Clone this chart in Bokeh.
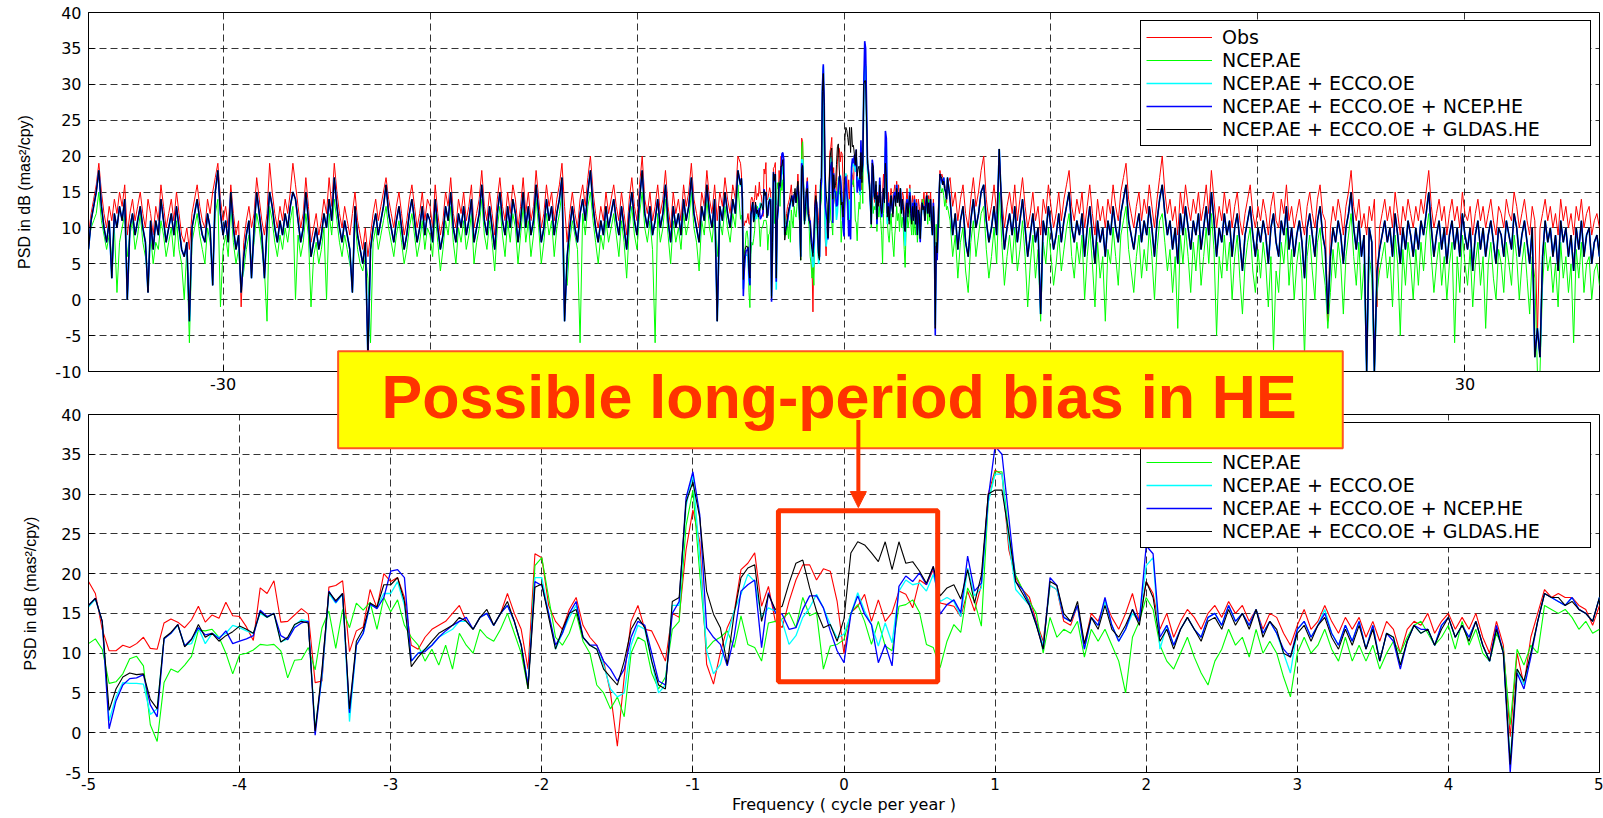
import numpy as np
from bokeh.plotting import figure
from bokeh.layouts import column
from bokeh.models import FixedTicker, BoxAnnotation, Label, Arrow, NormalHead
from bokeh.embed import file_html
from bokeh.resources import INLINE

# ------------------------------------------------------------------
# Spectra (PSD in dB, mas^2/cpy)
# ------------------------------------------------------------------
# fine band -5..5 cpy, resolution 1/22 cpy
freq_fine = np.arange(-110, 111) / 22.0

obs_fine = [
    19, 17.5, 13, 10.3, 10.3, 11, 10.7, 11.2, 12, 10.6, 10.5, 13.8, 14.3, 13.9, 13.2, 14.2, 15.9, 13.9, 14.8, 14.4,
    16.4, 14.7, 14.6, 13.3, 11.6, 18.2, 17.5, 19.1, 13.9, 14.0, 14.8, 15.6, 14.9, 6.3, 6.5, 18.3, 18.5, 19.1, 10.2, 12.8,
    13.3, 18.0, 15.7, 20.0, 19.0, 19.5,
    17, 11, 10.5, 12, 13, 13.5, 14, 15, 16, 14, 13, 14.5, 15, 13.5, 15, 17.5, 15, 13, 8, 22.5,
    22, 16, 14, 13, 15.5, 17, 13.5, 12, 11, 9, 5, -1.7, 7, 14, 16, 13, 12.8, 11, 9, 15,
    14.5, 23, 28,
    24, 8.6, 6.1, 10.1, 13.2, 15.1, 20.5, 21.3, 22.6, 15.9, 18.4, 14.0, 13.2, 16.5, 19.2, 21.1, 21.1, 19.2, 20.6, 20.3,
    16.5, 9.9, 15.1, 15.9, 17.4, 14, 16.7, 14, 15.1, 17.8, 17.4, 15.7, 19.2, 18.6, 20.5, 16.3, 16.1, 15.9, 14.6, 17.8,
    15.3, 18.6, 30,
    33, 32.5, 23, 19.5, 18, 17, 14, 11.5, 18.5, 18, 14, 13.5, 16, 11, 15, 14, 16.5, 14.5, 13, 15,
    17.5, 14, 19, 17.5, 13, 15, 12, 14, 15.5, 14.5, 13, 15, 16, 14.5, 16.5, 15, 16, 14, 15.5, 13,
    15, 14.5, 12.5, 11, 13.5, 15.5, 13, 14, 16, 14, 12.5, 14.5, 13, 14.5, 12, 14, 11.5, 14, 13, 10,
    13, 14, 13.5, 15, 12.5, 14, 15, 13, 14.5, 13, 15, 12, 10, 14, 11, -0.5, 10, 6, 12, 15,
    18, 17, 17.5, 17, 17, 16, 15.5, 13.5, 16,
]

ae_fine = [
    11.2, 11.8, 10.5, 6.2, 6.4, 7.4, 9.3, 9.6, 8.4, 1.0, -1.1, 6.3, 8.0, 7.6, 8.5, 9.6, 12.9, 12.8, 13.0, 12.0,
    10.0, 7.4, 9.8, 10.0, 10.4, 11.1, 11.0, 11.1, 10.3, 6.9, 9.1, 9.2, 10.7, 7.9, 13.2, 15.3, 10.6, 15.5, 13.2, 16.3,
    15.4, 16.4, 13.0, 17.0, 15.2, 16.7,
    13.5, 12, 11, 9, 10.5, 8.5, 11, 8, 12.5, 11, 10, 13, 12, 11.5, 13, 15, 12.5, 10, 5.5, 21,
    22, 17, 12, 11, 12.5, 15, 11.5, 10, 6, 5, 3, 4.5, 2, 10, 12, 11.5, 7.5, 5.5, 7, 13,
    14, 26, 30.5,
    20, 10.5, 11.5, 12, 12.8, 10.7, 14.7, 11.1, 10.7, 9, 13.8, 14, 14.3, 15.1, 13.2, 17, 14.7, 15.1, 8, 10.9,
    11.1, 11.7, 15.1, 16.1, 14, 11.1, 14, 10.9, 10.3, 15.9, 16.1, 16.7, 15.1, 11.1, 10.7, 8.2, 11.5, 13.6, 12.6, 18.2,
    16.5, 13.4, 29,
    32.8, 32.8, 25, 19.8, 18, 16.5, 15, 10, 14.5, 12, 13, 12.5, 14, 9.5, 13, 11.5, 13, 11, 9, 5,
    12, 14, 17, 15.5, 11, 9, 8, 10, 12, 9.5, 7.5, 6, 9, 10.5, 13, 11, 12, 9.5, 13, 10,
    11.5, 10, 7, 4.5, 10, 12, 10, 11, 13, 10.5, 9, 12, 9, 11, 9, 11, 8, 10, 11.5, 10,
    12, 13.5, 14, 12.5, 11, 12, 13.5, 10.5, 14, 11, 13, 10, 9, 12.5, 10.5, 1, 10.5, 8.5, 11, 10,
    16, 15.5, 15, 15.5, 14.5, 13, 14, 12.5, 13,
]

ae_oe_fine = [
    15.8, 16.8, 14.0, 1.5, 4.5, 6.3, 6.2, 6.2, 6.1, 2.3, 3.0, 11.8, 12.5, 13.5, 11.0, 11.2, 13.2, 11.2, 12.5, 12.0,
    12.5, 13.5, 13.2, 12.8, 12.5, 15.0, 14.5, 15.0, 11.4, 11.8, 13.5, 14.2, 14.0, 0.5, 7.0, 17.5, 16.3, 17.4, 1.4, 11.0,
    12.5, 16.0, 15.8, 17.5, 17.5, 19.0,
    16, 9, 10, 10.5, 11, 12, 12.5, 13, 14, 14, 13, 14.5, 15, 13.5, 15, 16, 14, 11, 6, 19.5,
    19.5, 15, 10.5, 12.5, 14.5, 16, 12, 11, 10.5, 8.5, 5.5, 4.5, 5, 11, 13.5, 13, 9, 5, 6, 16,
    16, 28.5, 32.5,
    22, 10.3, 7.4, 8.6, 12, 15.3, 17.4, 19.9, 19, 14.5, 15.7, 15.3, 14, 11.1, 12.2, 14.5, 15.7, 17.4, 15.7, 13.6,
    11.9, 12.4, 14.9, 17.6, 15.3, 13.6, 10.9, 13.8, 11.3, 17.8, 19.2, 18.6, 18.8, 17.8, 19.9, 16.5, 17, 16.5, 14.6, 20.7,
    17.2, 18.2, 29,
    32.5, 32.5, 24, 18, 17, 16, 13.5, 11, 18.5, 18, 14.5, 14, 16, 10.5, 14.5, 13.5, 16.5, 13.5, 11.5, 13,
    15, 14, 21, 22, 10.5, 13.5, 11, 13, 14.5, 13, 12, 14.5, 15, 13.5, 16, 14, 15, 13.5, 15.5, 12.5,
    14, 12.5, 10, 7.5, 13, 14, 12, 13.5, 15.5, 12.5, 11, 13.5, 11.5, 14, 10.5, 13.5, 9, 12.5, 12, 8.5,
    11.5, 13.5, 12.5, 13, 11, 13.5, 14.5, 12, 13.5, 12, 14, 11, 9, 13, 10, -3.5, 8, 6, 10, 14,
    17.5, 17, 16.5, 16, 17, 15.5, 15, 14, 17,
]

ae_oe_ncep_fine = [
    16.0, 16.9, 14.0, 0.5, 4.0, 6.0, 6.8, 6.9, 7.3, 3.5, 2.0, 11.8, 12.5, 13.6, 10.9, 11.8, 13.2, 12.3, 12.5, 11.8,
    12.8, 11.2, 11.5, 11.8, 12.2, 15.4, 14.6, 15.0, 12.2, 11.7, 13.2, 13.8, 14.0, -0.3, 7.5, 17.8, 16.4, 17.5, 2.5, 11.0,
    12.5, 16.2, 15.6, 17.0, 20.3, 20.5,
    19.5, 9, 10, 10.2, 11, 12, 12.8, 13.5, 14, 14.5, 13, 14.5, 15, 13.5, 15, 16, 14, 11, 6, 19,
    18.5, 15, 11, 12.5, 15, 16.5, 12, 11, 11, 9, 8, 6.5, 8, 12, 14, 13.5, 10, 6.5, 6, 15,
    16.5, 29.5, 32.8,
    27.4, 13.2, 12, 11.1, 8.4, 12, 17.8, 18.6, 19.2, 10.7, 17.6, 15.1, 14.9, 13, 13.2, 15.5, 17.2, 17.2, 15.7, 12.8,
    10.3, 8.8, 14.9, 17.2, 14.9, 13.6, 8.8, 11.1, 8.4, 18.4, 19.7, 19, 20.1, 18.6, 20.9, 14.9, 16.1, 16.7, 15.1, 22.2,
    17.8, 18.8, 29.5,
    36, 35, 27, 19, 18, 16.2, 13.7, 10.5, 19.5, 18.5, 14.5, 14, 16, 10.5, 14.5, 13.5, 17, 13.5, 11.5, 13,
    15.5, 14, 23.5, 22.5, 12, 13.5, 11, 13, 14.5, 13, 12, 14.5, 15, 13.5, 16, 14, 15, 13.5, 15.5, 12.5,
    14, 12.5, 10.5, 9.5, 13, 14, 12, 13.5, 15, 12.5, 11, 13.5, 11.5, 14, 10.5, 13.5, 9, 12.5, 11.5, 8,
    11.5, 13.5, 13, 13, 11, 13.5, 14.5, 12, 13.5, 12, 14, 11, 9, 13.5, 10, -5, 7.5, 5.5, 9.5, 14,
    17.5, 17, 16.5, 16, 17, 15.5, 15, 14, 17,
]

ae_oe_gldas_fine = [
    16.0, 16.9, 14.0, 2.8, 5.5, 7.0, 7.5, 7.3, 7.4, 4.2, 3.0, 11.9, 12.6, 13.6, 10.8, 11.7, 13.6, 12.0, 12.5, 11.5,
    12.2, 12.7, 13.4, 13.0, 12.5, 15.2, 14.5, 15.0, 11.4, 12.0, 13.6, 14.0, 13.8, 0.2, 8.0, 17.7, 16.6, 17.5, 3.0, 11.5,
    13.0, 16.3, 15.8, 18.6, 18.6, 19.5,
    16.5, 8.3, 9.5, 10.5, 11.5, 12.5, 13, 13.5, 14.5, 14, 13, 14.5, 15.5, 13.5, 15, 16.5, 14, 11, 5.5, 18.3,
    18.7, 14.5, 10.5, 13, 15, 15.5, 12, 11, 10.5, 8, 7, 6, 9, 13, 14.5, 13.2, 9, 6, 5.5, 16.5,
    17, 29, 31.5,
    27, 17.8, 14.9, 13.2, 8.6, 14.9, 19.5, 20.7, 21.1, 14, 17.4, 15.5, 15.9, 18.8, 21.3, 21.7, 18.2, 15.3, 13.2, 13.6,
    11.5, 14.3, 22.6, 24, 23.6, 22.6, 21.5, 24, 20.5, 24, 21.3, 21.5, 20.3, 18.8, 20.9, 17.2, 18.2, 18.6, 16.8, 20.5,
    16.3, 19.8, 30,
    30.5, 30.5, 25, 19, 17.5, 16, 13.5, 10.5, 19, 18.5, 15, 14, 16.5, 11.2, 14.5, 13, 16, 13, 12, 13.5,
    15.5, 13.5, 19, 17, 11.5, 13, 10.5, 13, 14.5, 13, 11.5, 14, 14.5, 13, 15.5, 13.5, 15, 13, 15.5, 12,
    14, 13, 10, 9.5, 12.5, 13.5, 11.5, 13.5, 14.5, 12, 10.5, 13, 11, 13.5, 10.5, 13, 9, 12.5, 12, 8.5,
    11.5, 13.5, 12.5, 13, 11, 13, 14.5, 12, 13.5, 11.5, 14, 11, 9, 13, 10, -4, 8, 6.5, 10, 14,
    17.5, 17, 17, 16, 16.5, 15.5, 15, 14, 17,
]

# wide band outside +-5 cpy, resolution 1/8 cpy
freq_left = -36.5 + 0.125 * np.arange(252)
freq_right = 5.125 + 0.125 * np.arange(252)

obs_left = [
    9, 12, 14, 16, 19, 15, 12, 10, 13, 11, 14, 12,
    15, 13, 16, 9, 12, 14, 11, 13, 15, 12, 10, 14,
    12, 9, 13, 11, 16, 13, 10, 12, 14, 11, 15, 12,
    9, 8, 10, 7, 12, 14, 16, 13, 11, 10, 14, 12,
    15, 17, 19, 14, 11, 13, 10, 16, 12, 9, 11, -1,
    8, 11, 13, 10, 12, 17, 14, 11, 9, 12, 19, 15,
    12, 10, 13, 11, 14, 12, 15, 19, 16, 13, 10, 12,
    17, 13, 8, 10, 12, 9, 11, 14, 12, 17, 13, 19,
    15, 12, 10, 13, 11, 9, 12, 15, 11, 9, 7, 10,
    6, 9, 12, 14, 11, 13, 15, 17, 14, 12, 10, 13,
    15, 12, 9, 11, 14, 16, 13, 10, 12, 15, 11, 14,
    13, 10, 16, 12, 9, 11, 15, 13, 17, 12, 10, 14,
    12, 15, 11, 13, 16, 10, 12, 14, 18, 13, 11, 15,
    12, 9, 14, 17, 13, 11, 15, 12, 16, 14, 10, 13,
    17, 12, 15, 11, 13, 18, 14, 10, 12, 16, 13, 15,
    11, 14, 16, 19, 13, 8, 12, 15, 12, 10, 14, 16,
    13, 17, 20, 15, 12, 10, 13, 11, 15, 12, 14, 16,
    13, 11, 15, 12, 9, 14, 17, 13, 11, 16, 20, 14,
    12, 15, 11, 13, 16, 12, 14, 18, 13, 10, 15, 12,
    14, 11, 16, 13, 15, 19, 14, 12, 10, 15, 13, 18,
    14, 12, 16, 11, 15, 13, 17, 14, 12, 16, 14, 20,
]
ae_left = [
    8, 10, 11, 12, 15, 11, 9, 7, 9, 6, 10, 1,
    8, 10, 12, 6, 9, 11, 7, 9, 12, 8, 6, 3,
    9, 5, 8, 7, 11, 9, 6, 8, 10, 6, 11, 7,
    5, 0, 7, -6, 8, 10, 12, 9, 7, 5, 10, 8,
    4, 12, 14, -1, 7, 9, 6, 13, 8, 5, 7, 2,
    4, 7, 9, 5, 8, 12, 10, 7, 4, -3, 13, 11,
    8, 6, 9, 7, 10, 8, 11, 13, 0, 9, 6, 8,
    12, 9, -1, 6, 8, 5, 7, 10, 0, 12, 9, 14,
    11, 8, 6, 9, 7, 5, 3, 11, 7, 5, 4, 6,
    3, -6, 8, 10, 7, 9, 11, 13, 10, 8, 6, 9,
    11, 8, 5, 7, 10, 12, 9, 6, 8, 11, 7, 10,
    9, 6, 12, 8, 4, 7, 11, 9, 13, 8, 5, 10,
    8, 11, 7, 9, 12, 5, 8, 10, 14, 9, 7, 11,
    8, 4, 10, 13, 9, 6, 11, 8, 12, 10, 5, 9,
    13, 8, 11, 6, 9, 14, 10, 5, 8, 12, 9, 11,
    6, 10, 12, 15, 3, 2, 8, 11, 9, 7, -6, 12,
    9, 13, 15, 11, 8, 5, 9, 7, 11, 8, 10, 12,
    9, 6, 11, 8, 3, 10, 13, 9, 7, 12, 15, 10,
    8, 11, 7, -6, 12, 8, 10, 14, 9, 5, 11, 8,
    10, 7, 12, 9, 11, 15, 10, 8, 4, 11, 9, 14,
    10, 8, 12, 6, 11, 9, 13, 10, 8, 12, 10, 16,
]
he_left = [
    7, 11, 13, 15, 18, 13, 10, 8, 11, 3, 12, 10,
    13, 11, 14, 0, 10, 12, 9, 11, 13, 10, 8, 1,
    11, 7, 11, 9, 14, 11, 8, 10, 12, 9, 13, 10,
    7, 6, 8, -3, 10, 12, 14, 11, 9, 8, 12, 10,
    2, 15, 18, 12, 9, 11, 8, 15, 10, 7, 9, 1,
    6, 9, 11, 3, 10, 15, 12, 9, 3, 10, 15, 13,
    10, 8, 11, 9, 12, 10, 13, 15, 14, 11, 8, 10,
    15, 11, 6, 8, 10, 7, 9, 12, 10, 14, 11, 17,
    13, 10, 8, 11, 9, 7, 1, 13, 9, 7, 5, 8,
    -8, 7, 10, 12, 9, 11, 13, 16, 12, 10, 8, 11,
    13, 10, 7, 9, 12, 14, 11, 8, 10, 13, 9, 12,
    11, 8, 14, 10, 7, 9, 13, 11, 15, 10, 8, 12,
    10, 13, 9, 11, 14, 8, 10, 12, 16, 11, 9, 13,
    10, 7, 12, 15, 11, 9, 13, 10, 14, 12, 8, 11,
    15, 10, 13, 9, 11, 16, 12, 8, 10, 14, 11, 13,
    9, 12, 14, 17, -3, 6, 10, 13, 10, 8, 12, 14,
    11, 15, 18, 13, 10, 8, 11, 9, 13, 10, 12, 14,
    11, 9, 13, 10, 7, 12, 15, 11, 9, 14, 18, 12,
    10, 13, 9, 11, 14, 10, 12, 16, 11, 8, 13, 10,
    12, 9, 14, 11, 13, 17, 12, 10, 8, 13, 11, 16,
    12, 10, 14, -3, 13, 11, 15, 12, 10, 14, 12, 18,
]
obs_right = [
    17, 13, 15, 11, 14, 16, 12, 10, 14, 17, 13, 15,
    18, 20, 14, 11, 13, 16, 12, 19, 14, 10, 13, 15,
    12, 16, 11, 14, 17, 13, 10, 12, 15, 11, 13, 9,
    14, 12, 16, 13, 10, 12, 15, 11, 14, 16, 18, 13,
    11, 14, 12, 15, 10, 13, 16, 12, 9, 14, 11, 13,
    10, 14, 12, 16, 13, 11, 15, 17, 19, 14, 12, 10,
    13, 15, 11, 14, 12, 16, 13, 10, 14, 17, 20, 15,
    12, 14, 11, 13, 9, 15, 12, 16, 13, 11, 14, 12,
    15, 11, 13, 16, 12, 18, 14, 10, 13, 11, 15, 12,
    14, 10, 13, 15, 11, 9, 12, 14, 16, 12, 10, 13,
    11, 14, 12, 9, 13, 15, 11, 10, 14, 12, 16, 11,
    13, 10, 12, 14, 11, 9, 13, 15, 12, 10, 14, 16,
    12, 11, -3, 10, 13, 11, 14, 12, 9, 13, 15, 18,
    13, 11, 14, 10, 12, 9, 13, 11, 14, -1, 10, 12,
    14, 11, 13, 10, 15, 12, 9, 13, 11, 14, 12, 10,
    13, 11, 14, 12, 15, 18, 13, 10, 12, 14, 11, 13,
    9, 12, 14, 11, 13, 10, 15, 12, 11, 13, 9, 12,
    14, 11, 13, 10, 12, 14, 11, 9, 13, 12, 10, 14,
    12, 11, 15, 13, 10, 12, 14, 11, 9, 13, 11, -5,
    10, 12, 14, 11, 13, 10, 12, 9, 14, 11, 13, 10,
    12, 9, 13, 11, 14, 10, 12, 13, 9, 11, 12, 10,
]
ae_right = [
    11, 6, 9, 3, 8, 10, 4, 1, 8, 11, 6, 9,
    12, 13, 7, 3, 6, 10, 5, 15, 8, 2, 6, 9,
    5, 10, 4, 7, 11, 6, -1, 5, 9, 3, 7, -3,
    8, 5, 10, 6, 2, 5, 9, 4, 7, 10, 12, 6,
    3, 8, 5, 9, 0, 6, 10, 5, -1, 8, 3, 6,
    -3, 7, 5, 10, 6, 2, 9, 11, 13, 7, 4, 1,
    6, 9, 3, 7, 4, 10, 6, 0, 7, 11, 12, 8,
    4, 7, 1, 6, -4, 9, 5, 10, 6, 1, 8, 4,
    9, 2, 6, 10, 5, 12, 7, -5, 6, 3, 9, 4,
    8, 0, 6, 9, 3, -2, 5, 8, 10, 4, 1, 7,
    3, 8, 5, -1, 6, -7, 4, 1, 8, 5, 10, 2,
    7, 0, 5, 8, 3, -8, 6, 9, 4, 0, 8, 10,
    5, 2, -4, 1, 7, 3, 8, 5, -2, 6, 9, 12,
    6, 2, 8, 0, 5, -10, 6, 3, -10, 1, 4, 6,
    8, 3, 6, -1, 9, 5, -5, 7, 2, 8, 5, 0,
    7, 2, 8, 4, 9, 12, 6, 1, 5, 8, 2, 6,
    0, 5, 8, -6, 6, 1, 9, 5, 2, 7, -1, 5,
    8, 2, 6, -4, 5, 8, 3, 0, 7, 5, 1, 8,
    5, 2, 9, 6, 0, 5, 8, 3, -2, 6, 3, -10,
    -10, 2, 8, 4, 6, 1, 5, -1, 8, 3, 6, 1,
    5, -6, 7, 3, 8, 1, 5, 6, 0, 4, 5, 2,
]
he_right = [
    14, 9, 12, 7, 11, 13, 8, 6, 11, 14, 10, 12,
    15, 16, 11, 8, 10, 13, 9, 21, 12, 7, 10, 12,
    9, 13, 8, 11, 14, 10, 6, 9, 12, 8, 10, -2,
    11, 9, 13, 10, 7, 9, 12, 8, 11, 13, 15, 10,
    8, 11, 9, 12, 6, 10, 13, 9, 5, 11, 8, 10,
    6, 11, 9, 13, 10, 8, 12, 14, 16, 11, 9, 7,
    10, 12, 8, 11, 9, 13, 10, 6, 11, 14, 16, 12,
    9, 11, 7, 10, 5, 12, 9, 13, 10, 7, 11, 9,
    12, 7, 10, 13, 9, 15, 11, 6, 10, 8, 12, 9,
    11, 6, 10, 12, 8, 4, 9, 11, 13, 9, 6, 10,
    8, 11, 9, 5, 10, 12, 8, 6, 11, 9, 13, 7,
    10, 6, 9, 11, 8, 3, 10, 12, 9, 6, 11, 13,
    9, 7, -2, 6, 10, 8, 11, 9, 5, 10, 12, 15,
    10, 7, 11, 6, 9, -10, 10, 8, -10, 4, 7, 9,
    11, 8, 10, 6, 12, 9, 5, 10, 7, 11, 9, 6,
    10, 7, 11, 9, 12, 15, 10, 6, 9, 11, 7, 10,
    5, 9, 11, 7, 10, 6, 12, 9, 7, 10, 4, 9,
    11, 7, 10, 6, 9, 11, 8, 5, 10, 9, 6, 11,
    9, 7, 12, 10, 6, 9, 11, 8, 5, 10, -8, -4,
    -8, 6, 11, 8, 10, 6, 9, 4, 11, 8, 10, 6,
    9, 4, 10, 7, 11, 6, 9, 10, 5, 8, 9, 6,
]

series_names = ["Obs", "NCEP.AE", "NCEP.AE + ECCO.OE",
                "NCEP.AE + ECCO.OE + NCEP.HE", "NCEP.AE + ECCO.OE + GLDAS.HE"]
series_colors = ["#ff0000", "#00ff00", "#00ffff", "#0000ff", "#000000"]
fine_values = [obs_fine, ae_fine, ae_oe_fine, ae_oe_ncep_fine, ae_oe_gldas_fine]
left_values = [obs_left, ae_left, he_left, he_left, he_left]
right_values = [obs_right, ae_right, he_right, he_right, he_right]

for arr in fine_values:
    assert len(arr) == len(freq_fine), len(arr)
for arr in left_values + right_values:
    assert len(arr) == 252, len(arr)

freq_full = np.concatenate([freq_left, freq_fine, freq_right])

TICK_FONT = "DejaVu Sans"
TEXT_COLOR = "#000000"
PAGE_W = 1603
FRAME_L, FRAME_R = 88, 4


def hyphen_labels(ticks):
    return {t: str(t) for t in ticks if t < 0}


def style_axes(p, xticks, yticks, xtick_size):
    p.xaxis.ticker = FixedTicker(ticks=xticks)
    p.yaxis.ticker = FixedTicker(ticks=yticks)
    p.xaxis.major_label_overrides = hyphen_labels(xticks)
    p.yaxis.major_label_overrides = hyphen_labels(yticks)
    for ax in (p.xaxis[0], p.yaxis[0]):
        ax.major_tick_in = 6
        ax.major_tick_out = 0
        ax.minor_tick_line_color = None
        ax.axis_line_color = "black"
        ax.major_tick_line_color = "black"
        ax.major_label_text_font = TICK_FONT
        ax.major_label_text_color = TEXT_COLOR
    p.xaxis.major_label_text_font_size = xtick_size
    p.yaxis.major_label_text_font_size = "16px"
    p.xaxis.major_label_standoff = 6
    p.yaxis.major_label_standoff = 7
    p.yaxis.axis_label = "PSD in dB (mas\u00b2/cpy)"
    p.yaxis.axis_label_text_font = "Liberation Sans"
    p.yaxis.axis_label_text_font_size = "16px"
    p.yaxis.axis_label_text_font_style = "normal"
    p.yaxis.axis_label_text_color = TEXT_COLOR
    p.yaxis.axis_label_standoff = 19
    for g in (p.xgrid[0], p.ygrid[0]):
        g.grid_line_color = "#111111"
        g.grid_line_dash = "7 4"
        g.grid_line_width = 1
        g.grid_line_alpha = 0.85
    p.outline_line_color = "black"
    p.outline_line_alpha = 1
    p.outline_line_width = 1


def style_legend(p):
    lg = p.legend[0]
    lg.location = "top_right"
    lg.margin = 8
    lg.padding = 5
    lg.spacing = 1
    lg.glyph_width = 66
    lg.glyph_height = 20
    lg.label_height = 20
    lg.label_width = 363
    lg.label_standoff = 10
    lg.label_text_font = TICK_FONT
    lg.label_text_font_size = "19px"
    lg.label_text_color = TEXT_COLOR
    lg.border_line_color = "black"
    lg.border_line_width = 1
    lg.border_line_alpha = 1
    lg.background_fill_alpha = 1


# ------------------------------------------------------------------
# Upper panel: full band
# ------------------------------------------------------------------
top = figure(width=PAGE_W, height=414, x_range=(-36.5, 36.5), y_range=(-10, 40),
             output_backend="svg", toolbar_location=None,
             min_border_left=FRAME_L, min_border_right=FRAME_R, min_border_top=12, min_border_bottom=43)
top_widths = [1.0, 1.0, 1.6, 1.6, 1.0]
for name, color, fv, lv, rv, w in zip(series_names, series_colors, fine_values,
                                       left_values, right_values, top_widths):
    ys = list(lv) + list(fv) + list(rv)
    top.line(freq_full, ys, line_color=color, line_width=w, legend_label=name)
style_axes(top, [-30, -20, -10, 0, 10, 20, 30], list(range(-10, 41, 5)), "16px")
style_legend(top)

# ------------------------------------------------------------------
# Lower panel: zoom on -5..5 cpy (its canvas overlaps the upper one's margin)
# ------------------------------------------------------------------
BOT_TOP = 340           # page y where the lower canvas starts
bot = figure(width=PAGE_W, height=818 - BOT_TOP, x_range=(-5, 5), y_range=(-5, 40),
             output_backend="svg", toolbar_location=None,
             min_border_left=FRAME_L, min_border_right=FRAME_R,
             min_border_top=414 - BOT_TOP, min_border_bottom=46)
bot.background_fill_color = None
bot.border_fill_color = None
bot.margin = (BOT_TOP - 414, 0, 0, 0)
bot_widths = [1.1, 1.1, 1.3, 1.3, 1.1]
for name, color, fv, w in zip(series_names, series_colors, fine_values, bot_widths):
    bot.line(freq_fine, fv, line_color=color, line_width=w, legend_label=name)
style_axes(bot, list(range(-5, 6)), list(range(-5, 41, 5)), "15px")
bot.xaxis.major_label_standoff = 5
bot.xaxis.axis_label = "Frequency ( cycle per year )"
bot.xaxis.axis_label_text_font = TICK_FONT
bot.xaxis.axis_label_text_font_size = "16px"
bot.xaxis.axis_label_text_font_style = "normal"
bot.xaxis.axis_label_text_color = TEXT_COLOR
bot.xaxis.axis_label_standoff = 2
style_legend(bot)

ACCENT = "#ff3300"
# highlighted frequency band
bot.add_layout(BoxAnnotation(left=-0.434, right=0.62, bottom=6.4, top=27.9,
                             fill_alpha=0, line_color=ACCENT, line_alpha=1, line_width=5))

# ------------------------------------------------------------------
# Call-out layer: transparent canvas on top of both panels, sharing the
# lower panel's x scale and y scale (7.9556 px per dB)
# ------------------------------------------------------------------
CO_TOP, CO_BOT = 340, 520
px_per_db = (772 - 414) / 45.0
co_ymax = 40 + (414 - CO_TOP) / px_per_db
co_ymin = 40 - (CO_BOT - 414) / px_per_db
callout = figure(width=PAGE_W, height=CO_BOT - CO_TOP, x_range=bot.x_range,
                 y_range=(co_ymin, co_ymax), x_axis_type=None, y_axis_type=None,
                 output_backend="svg", toolbar_location=None,
                 min_border_left=FRAME_L, min_border_right=FRAME_R,
                 min_border_top=0, min_border_bottom=0)
callout.background_fill_color = None
callout.border_fill_color = None
callout.outline_line_color = None
callout.grid.grid_line_color = None
callout.margin = (CO_TOP - 818, 0, 818 - CO_BOT, 0)

callout.add_layout(BoxAnnotation(left=-3.348, right=3.301, bottom=35.75, top=47.95,
                                 fill_color="#ffff00", fill_alpha=1,
                                 line_color="#ff5522", line_alpha=1, line_width=2))
callout.add_layout(Label(x=-0.033, y=42.2, text="Possible long-period bias in HE",
                         text_align="center", text_baseline="middle",
                         text_font="Liberation Sans", text_font_style="bold",
                         text_font_size="61px", text_color=ACCENT))
callout.add_layout(Arrow(end=NormalHead(size=16, fill_color=ACCENT, line_color=ACCENT, line_width=1),
                         x_start=0.095, y_start=39.3, x_end=0.095, y_end=28.3,
                         line_color=ACCENT, line_width=4))

layout = column(top, bot, callout, spacing=0)
open("out.html", "w").write(file_html(layout, INLINE))
